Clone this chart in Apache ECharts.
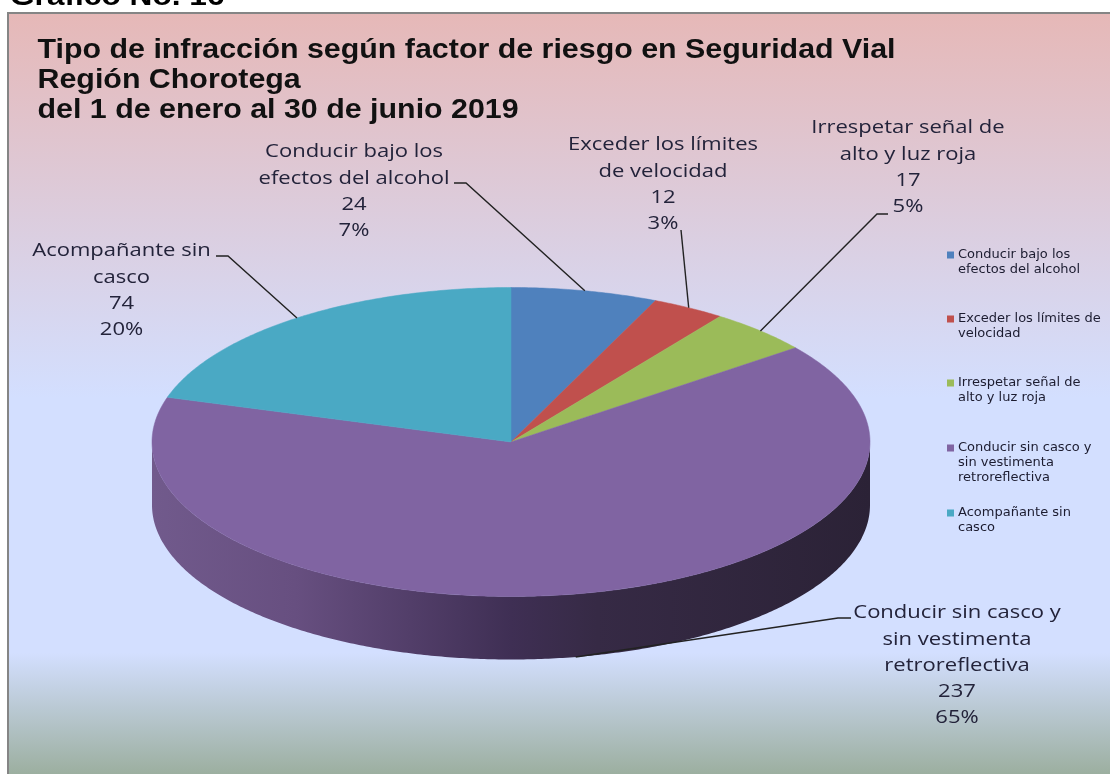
<!DOCTYPE html>
<html>
<head>
<meta charset="utf-8">
<style>html,body{margin:0;padding:0;background:#fff}#c{width:1110px;height:774px}</style>
<script src="https://cdn.jsdelivr.net/npm/echarts@6/dist/echarts.min.js"></script>
</head>
<body>
<div id="c"></div>
<script>
// ---- data ----
const categories = [
  'Conducir bajo los efectos del alcohol',
  'Exceder los límites de velocidad',
  'Irrespetar señal de alto y luz roja',
  'Conducir sin casco y sin vestimenta retroreflectiva',
  'Acompañante sin casco'
];
const values = [24, 12, 17, 237, 74];
const dataLabels = [
  'Conducir bajo los\nefectos del alcohol',
  'Exceder los límites\nde velocidad',
  'Irrespetar señal de\nalto y luz roja',
  'Conducir sin casco y\nsin vestimenta\nretroreflectiva',
  'Acompañante sin\ncasco'
];
const legendLabels = [
  'Conducir bajo los\nefectos del alcohol',
  'Exceder los límites de\nvelocidad',
  'Irrespetar señal de\nalto y luz roja',
  'Conducir sin casco y\nsin vestimenta\nretroreflectiva',
  'Acompañante sin\ncasco'
];
const titleText = 'Tipo de infracción según factor de riesgo en Seguridad Vial\nRegión Chorotega\ndel 1 de enero al 30 de junio 2019';
const headingText = 'Gráfico No. 16';

// ---- layout & style ----
const colors = ['#4f81bd', '#c0504d', '#9bbb59', '#8064a2', '#4aa9c4'];
const PIE = { cx: 511, cy: 442, rx: 359, ry: 154.5, depth: 63 };
const labelFont = '"Open Sans", sans-serif';
const boldFont = '"Liberation Sans", Arial, sans-serif';
const labelLH = 26.3;
const labelPos = [[354, 152], [663, 145], [908, 128], [957, 613], [121.5, 251]];
const leaderStart = [[454, 183], [681, 230], [888, 214], [851, 618], [216, 256]];
const leaderElbow = [[466, 183], null, [877, 214], [838, 618], [228, 256]];
const legendFirstLineY = [255, 319, 383, 448, 513];
const legendLH = 15;
const wallStops = [
  { offset: 0, color: '#715a8c' }, { offset: 0.2, color: '#674f80' },
  { offset: 0.36, color: '#523e69' }, { offset: 0.5, color: '#3f2f54' },
  { offset: 0.62, color: '#362a45' }, { offset: 1, color: '#2b2236' }
];

const total = values.reduce((a, b) => a + b, 0);
function sectorAngles(i) {
  let s = 0;
  for (let k = 0; k < i; k++) s += values[k];
  return [s / total * 2 * Math.PI, (s + values[i]) / total * 2 * Math.PI];
}
function ellipsePt(a, dy) {
  return [PIE.cx + PIE.rx * Math.sin(a), PIE.cy - PIE.ry * Math.cos(a) + (dy || 0)];
}
function arcPts(a0, a1, dy) {
  const n = Math.max(2, Math.ceil((a1 - a0) / 0.01)), pts = [];
  for (let k = 0; k <= n; k++) pts.push(ellipsePt(a0 + (a1 - a0) * k / n, dy));
  return pts;
}

function renderSlice(params, api) {
  const i = params.seriesIndex;
  const [a0, a1] = sectorAngles(i);
  const mid = (a0 + a1) / 2;
  const children = [];
  // side wall: only the part of the slice facing the viewer
  const w0 = Math.max(a0, Math.PI / 2), w1 = Math.min(a1, Math.PI * 1.5);
  if (w1 > w0) {
    const pts = arcPts(w0, w1, 0).concat(arcPts(w0, w1, PIE.depth).reverse());
    children.push({
      type: 'polygon', shape: { points: pts },
      style: { fill: { type: 'linear', x: 0, y: 0, x2: 1, y2: 0, colorStops: wallStops } }
    });
  }
  // top face
  const top = [[PIE.cx, PIE.cy]].concat(arcPts(a0, a1, 0));
  children.push({
    type: 'polygon', shape: { points: top },
    style: { fill: colors[i], stroke: colors[i], lineWidth: 0.5 }
  });
  // leader line: ends on the outer edge at the slice's mid angle
  const front = mid > Math.PI / 2 && mid < Math.PI * 1.5;
  const end = ellipsePt(mid, front ? PIE.depth : 0);
  const line = [leaderStart[i]];
  if (leaderElbow[i]) line.push(leaderElbow[i]);
  line.push(end);
  children.push({
    type: 'polyline', shape: { points: line },
    style: { fill: null, stroke: '#222222', lineWidth: 1.4 }
  });
  // data label
  const pct = Math.round(api.value(0) / total * 100);
  children.push({
    type: 'text',
    x: labelPos[i][0], y: labelPos[i][1] - labelLH / 2, scaleX: 1.19,
    style: {
      text: dataLabels[i] + '\n' + api.value(0) + '\n' + pct + '%',
      x: 0, y: 0,
      align: 'center', verticalAlign: 'top',
      fontFamily: labelFont, fontSize: 18.5, lineHeight: labelLH, fill: '#23233a'
    }
  });
  return { type: 'group', children };
}

function iconPath(lines) {
  const h = lines * legendLH;
  return 'path://M0 ' + (legendLH / 2 - 3.5) + 'H7V' + (legendLH / 2 + 3.5) + 'H0Z' +
         'M0 0L0.01 0L0 0Z' + 'M0 ' + h + 'L0.01 ' + h + 'L0 ' + h + 'Z';
}

const chart = echarts.init(document.getElementById('c'));
chart.setOption({
  animation: false,
  backgroundColor: '#ffffff',
  legend: categories.map((name, i) => {
    const lines = legendLabels[i].split('\n').length;
    return {
      data: [{ name, icon: iconPath(lines), itemStyle: { color: colors[i] } }],
      orient: 'vertical', left: 947, top: legendFirstLineY[i] - legendLH / 2,
      padding: 0, itemWidth: 7, itemHeight: lines * legendLH, itemGap: 0,
      selectedMode: false,
      formatter: n => legendLabels[categories.indexOf(n)],
      textStyle: { fontFamily: '"DejaVu Sans", sans-serif', fontSize: 13, lineHeight: legendLH, color: '#1c1c30', padding: [0, 0, 0, -1] }
    };
  }),
  graphic: [
    { type: 'rect', z: 0, shape: { x: 8, y: 13, width: 1110, height: 770 },
      style: { stroke: '#858585', lineWidth: 2,
        fill: { type: 'linear', x: 0, y: 0, x2: 0, y2: 1, colorStops: [
          { offset: 0, color: '#e6b8b7' }, { offset: 0.5, color: '#d3dfff' },
          { offset: 0.83, color: '#d3dfff' }, { offset: 0.99, color: '#9bae9e' }, { offset: 1, color: '#9bae9e' }
        ] } } },
    { type: 'text', z: 1, x: 10, y: -17, scaleX: 1.13, style: { text: headingText, fontFamily: boldFont, fontWeight: 'bold', fontSize: 28, fill: '#000' } },
    { type: 'text', z: 6, x: 37.5, y: 35.5, scaleX: 1.125, style: { text: titleText, fontFamily: boldFont, fontWeight: 'bold', fontSize: 27, lineHeight: 30, fill: '#111111' } }
  ],
  series: categories.map((name, i) => ({
    type: 'custom', name, coordinateSystem: 'none', silent: true,
    itemStyle: { color: colors[i] },
    renderItem: renderSlice,
    data: [[values[i]]]
  }))
});
</script>
</body>
</html>
